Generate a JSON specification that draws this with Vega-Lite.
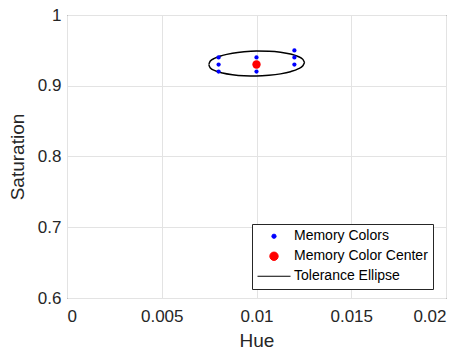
{
  "$schema": "https://vega.github.io/schema/vega-lite/v6.json",
  "width": 379,
  "height": 283,
  "autosize": {"type": "none"},
  "padding": {"left": 67, "top": 15, "right": 18, "bottom": 55},
  "background": "white",
  "config": {
    "font": "Liberation Sans",
    "view": {"stroke": "#262626", "strokeWidth": 1},
    "axis": {
      "domain": false,
      "grid": true,
      "gridColor": "#e3e3e3",
      "gridWidth": 1,
      "tickSize": 0,
      "labelFont": "Liberation Sans",
      "labelFontSize": 17,
      "labelColor": "#262626",
      "titleFont": "Liberation Sans",
      "titleFontSize": 19,
      "titleFontWeight": "normal",
      "titleColor": "#262626"
    },
    "legend": {
      "title": null,
      "orient": "none",
      "legendX": 185,
      "legendY": 209,
      "fillColor": "white",
      "strokeColor": "#262626",
      "padding": 5,
      "labelFont": "Liberation Sans",
      "labelFontSize": 14,
      "labelColor": "black",
      "labelOffset": 3,
      "rowPadding": 5,
      "clipHeight": 14.5,
      "symbolStrokeWidth": 1,
      "symbolOpacity": 1
    }
  },
  "datasets": {
    "points": [
      {"hue": 0.008, "sat": 0.94, "series": "Memory Colors"},
      {"hue": 0.008, "sat": 0.93, "series": "Memory Colors"},
      {"hue": 0.008, "sat": 0.92, "series": "Memory Colors"},
      {"hue": 0.01, "sat": 0.94, "series": "Memory Colors"},
      {"hue": 0.01, "sat": 0.93, "series": "Memory Colors"},
      {"hue": 0.01, "sat": 0.92, "series": "Memory Colors"},
      {"hue": 0.012, "sat": 0.95, "series": "Memory Colors"},
      {"hue": 0.012, "sat": 0.94, "series": "Memory Colors"},
      {"hue": 0.012, "sat": 0.93, "series": "Memory Colors"},
      {"hue": 0.01, "sat": 0.93, "series": "Memory Color Center"}
    ],
    "ellipse": [
      {"i": 0, "hue": 0.012533, "sat": 0.9328},
      {"i": 1, "hue": 0.012447, "sat": 0.9373},
      {"i": 2, "hue": 0.012194, "sat": 0.9414},
      {"i": 3, "hue": 0.011791, "sat": 0.9449},
      {"i": 4, "hue": 0.011267, "sat": 0.9474},
      {"i": 5, "hue": 0.010656, "sat": 0.9488},
      {"i": 6, "hue": 0.01, "sat": 0.9491},
      {"i": 7, "hue": 0.009344, "sat": 0.9481},
      {"i": 8, "hue": 0.008733, "sat": 0.946},
      {"i": 9, "hue": 0.008209, "sat": 0.9429},
      {"i": 10, "hue": 0.007806, "sat": 0.939},
      {"i": 11, "hue": 0.007553, "sat": 0.9346},
      {"i": 12, "hue": 0.007467, "sat": 0.93},
      {"i": 13, "hue": 0.007553, "sat": 0.9255},
      {"i": 14, "hue": 0.007806, "sat": 0.9214},
      {"i": 15, "hue": 0.008209, "sat": 0.9179},
      {"i": 16, "hue": 0.008733, "sat": 0.9154},
      {"i": 17, "hue": 0.009344, "sat": 0.914},
      {"i": 18, "hue": 0.01, "sat": 0.9137},
      {"i": 19, "hue": 0.010656, "sat": 0.9147},
      {"i": 20, "hue": 0.011267, "sat": 0.9168},
      {"i": 21, "hue": 0.011791, "sat": 0.9199},
      {"i": 22, "hue": 0.012194, "sat": 0.9238},
      {"i": 23, "hue": 0.012447, "sat": 0.9282},
      {"i": 24, "hue": 0.012533, "sat": 0.9328}
    ]
  },
  "layer": [
    {
      "data": {"name": "ellipse"},
      "mark": {"type": "line", "color": "black", "strokeWidth": 1.5, "interpolate": "monotone"},
      "encoding": {
        "x": {"field": "hue", "type": "quantitative", "scale": {"domain": [0, 0.02], "nice": false, "zero": false},
              "axis": {"title": "Hue", "values": [0, 0.005, 0.01, 0.015, 0.02], "format": "~g", "labelPadding": 10, "titlePadding": 7}},
        "y": {"field": "sat", "type": "quantitative", "scale": {"domain": [0.6, 1], "nice": false, "zero": false},
              "axis": {"title": "Saturation", "values": [0.6, 0.7, 0.8, 0.9, 1], "format": "~g", "labelPadding": 6, "titlePadding": 10}},
        "order": {"field": "i", "type": "quantitative"}
      }
    },
    {
      "data": {"name": "points"},
      "mark": {"type": "point", "filled": true, "opacity": 1, "strokeWidth": 0},
      "encoding": {
        "x": {"field": "hue", "type": "quantitative"},
        "y": {"field": "sat", "type": "quantitative"},
        "color": {
          "field": "series", "type": "nominal",
          "scale": {"domain": ["Memory Colors", "Memory Color Center", "Tolerance Ellipse"], "range": ["#0000ff", "#ff0000", "#000000"]}
        },
        "stroke": {
          "field": "series", "type": "nominal",
          "scale": {"domain": ["Memory Colors", "Memory Color Center", "Tolerance Ellipse"], "range": ["#0000ff", "#ff0000", "#000000"]}
        },
        "shape": {
          "field": "series", "type": "nominal",
          "scale": {"domain": ["Memory Colors", "Memory Color Center", "Tolerance Ellipse"], "range": ["circle", "circle", "stroke"]}
        },
        "size": {
          "field": "series", "type": "nominal",
          "scale": {"type": "ordinal", "domain": ["Memory Colors", "Memory Color Center", "Tolerance Ellipse"], "range": [18, 70, 1089]}
        }
      }
    }
  ]
}
